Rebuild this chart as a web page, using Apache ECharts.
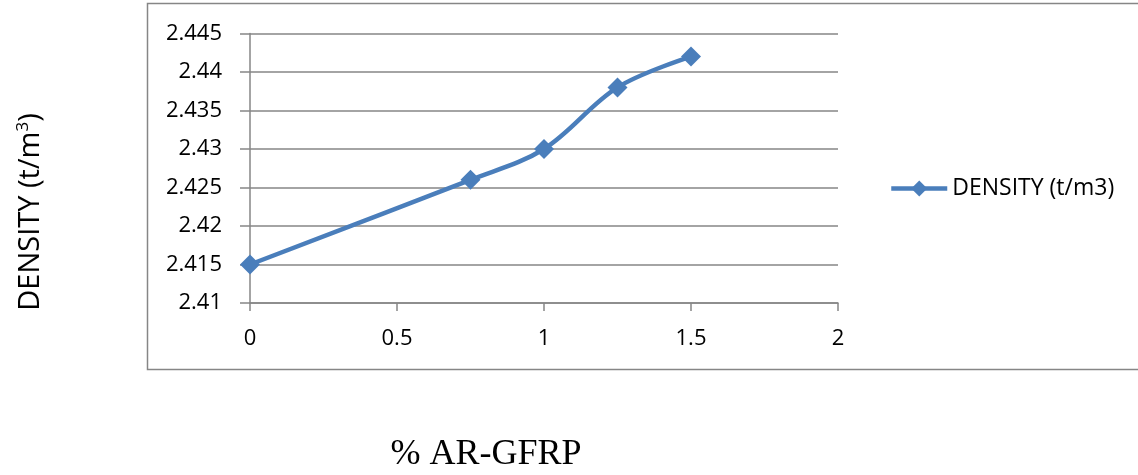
<!DOCTYPE html>
<html>
<head>
<meta charset="utf-8">
<script src="https://cdn.jsdelivr.net/npm/echarts@6/dist/echarts.min.js"></script>
<style>
  html, body { margin: 0; padding: 0; background: #fff; }
  #chart { width: 1138px; height: 475px; }
</style>
</head>
<body>
<div id="chart"></div>
<script>
// Density of concrete against AR-GFRP fibre content
const fibrePercent = [0, 0.75, 1, 1.25, 1.5];
const density = [2.415, 2.426, 2.43, 2.438, 2.442];
const seriesName = 'DENSITY (t/m3)';
const xTitle = '% AR-GFRP';

const chart = echarts.init(document.getElementById('chart'));
const gray = '#868686';
const blue = '#4A7EBB';
const labelFont = '"Open Sans", "Liberation Sans", sans-serif';

chart.setOption({
  animation: false,
  backgroundColor: '#fff',
  graphic: [
    {
      // chart frame
      type: 'rect',
      shape: { x: 147.5, y: 3.5, width: 1000, height: 366 },
      style: { fill: 'none', stroke: gray, lineWidth: 1.5 },
      silent: true
    },
    {
      // vertical axis title with superscript unit
      type: 'text',
      x: 31, y: 212,
      rotation: Math.PI / 2,
      style: {
        text: '{a|DENSITY (t/m}{s|3}{a|)}',
        align: 'center',
        verticalAlign: 'middle',
        rich: {
          a: { fontFamily: labelFont, fontSize: 29, fill: '#000' },
          s: { fontFamily: labelFont, fontSize: 17, fill: '#000', padding: [0, 0, 16, 0] }
        }
      },
      silent: true
    },
    {
      // horizontal axis title
      type: 'text',
      x: 486, y: 455,
      style: {
        text: xTitle,
        align: 'center',
        verticalAlign: 'middle',
        fontFamily: '"Liberation Serif", "Times New Roman", serif',
        fontSize: 36,
        fill: '#000'
      },
      silent: true
    }
  ],
  legend: {
    data: [seriesName],
    left: 884,
    top: 172,
    itemWidth: 56,
    itemHeight: 20,
    itemGap: 4,
    lineStyle: { width: 4.5 },
    textStyle: { fontFamily: labelFont, fontSize: 23, color: '#000' }
  },
  grid: { left: 250, top: 33.5, right: 300, bottom: 172, outerBoundsMode: 'none' },
  xAxis: {
    type: 'value',
    min: 0, max: 2, interval: 0.5,
    axisLine: { show: true, lineStyle: { color: gray, width: 1.5 } },
    axisTick: { show: true, length: 8, lineStyle: { color: gray, width: 1.5 } },
    axisLabel: { fontFamily: labelFont, fontSize: 22, color: '#000', margin: 25 },
    splitLine: { show: false }
  },
  yAxis: {
    type: 'value',
    min: 2.41, max: 2.445, interval: 0.005,
    axisLine: { show: true, lineStyle: { color: gray, width: 1.5 } },
    axisTick: { show: true, length: 10, lineStyle: { color: gray, width: 1.5 } },
    axisLabel: {
      fontFamily: labelFont, fontSize: 22, color: '#000', margin: 28,
      formatter: v => String(parseFloat(v.toFixed(3)))
    },
    splitLine: { show: true, lineStyle: { color: gray, width: 1.5 } }
  },
  series: [{
    name: seriesName,
    type: 'line',
    data: fibrePercent.map((x, i) => [x, density[i]]),
    smooth: 0.35,
    symbol: 'diamond',
    symbolSize: 20,
    lineStyle: { color: blue, width: 4.5 },
    itemStyle: { color: blue }
  }]
});
</script>
</body>
</html>
